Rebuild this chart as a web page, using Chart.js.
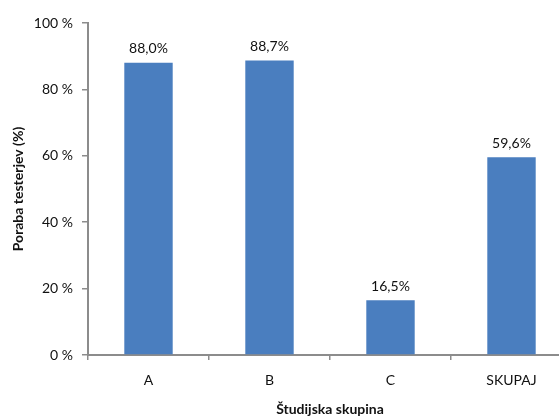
<!DOCTYPE html>
<html>
<head>
<meta charset="utf-8">
<script src="https://cdn.jsdelivr.net/npm/chart.js@4"></script>
<style>
html,body{margin:0;padding:0;overflow:hidden;background:#fff;width:559px;height:417px;}
#wrap{width:572px;height:417px;position:relative;}
</style>
</head>
<body>
<div id="wrap"><canvas id="c" width="572" height="417"></canvas></div>
<script>
const categories = ['A', 'B', 'C', 'SKUPAJ'];
const values = [88.0, 88.7, 16.5, 59.6];
const yTicks = [0, 20, 40, 60, 80, 100];
const xTitle = 'Študijska skupina';
const yTitle = 'Poraba testerjev (%)';

const FONT = 'Lato, "Open Sans", sans-serif';

const labelPlugin = {
  id: 'valLabels',
  afterDatasetsDraw(chart) {
    const ctx = chart.ctx;
    const meta = chart.getDatasetMeta(0);
    ctx.save();
    ctx.font = '14px ' + FONT;
    ctx.fillStyle = '#111';
    ctx.textAlign = 'center';
    ctx.textBaseline = 'bottom';
    meta.data.forEach((bar, i) => {
      ctx.fillText(values[i].toFixed(1).replace('.', ',') + '%', bar.x, bar.y - 7);
    });
    ctx.restore();
  }
};

new Chart(document.getElementById('c'), {
  type: 'bar',
  data: {
    labels: categories,
    datasets: [{
      data: values,
      backgroundColor: '#4a7ebf',
      borderWidth: 0,
      categoryPercentage: 1.0,
      barPercentage: 0.4
    }]
  },
  plugins: [labelPlugin],
  options: {
    responsive: false,
    animation: false,
    events: [],
    layout: { padding: { top: 23, right: 0, left: 0, bottom: 0 } },
    plugins: { legend: { display: false }, tooltip: { enabled: false } },
    scales: {
      x: {
        offset: true,
        afterFit(s) { s.height = 62; },
        border: { display: true, color: '#8c8c8c', width: 2 },
        grid: { display: true, drawOnChartArea: false, drawTicks: true, tickLength: 5, color: '#8c8c8c', lineWidth: 1.5, offset: true },
        ticks: { color: '#111', font: { family: FONT, size: 14 }, padding: 12 },
        title: { display: true, text: xTitle, color: '#111', font: { family: FONT, size: 14, weight: 'bold' }, padding: { top: 12, bottom: -1 } }
      },
      y: {
        min: 0, max: 100,
        afterFit(s) { s.width = 88; },
        afterBuildTicks(s) { s.ticks = yTicks.map(v => ({ value: v })); },
        border: { display: true, color: '#8c8c8c', width: 2 },
        grid: { display: true, drawOnChartArea: false, drawTicks: true, tickLength: 6, color: '#8c8c8c', lineWidth: 1.5 },
        ticks: { color: '#111', font: { family: FONT, size: 14 }, padding: 9, callback: v => v + ' %' },
        title: { display: true, text: yTitle, color: '#111', font: { family: FONT, size: 14, weight: 'bold' }, padding: { top: 10, bottom: 4 } }
      }
    }
  }
});
</script>
</body>
</html>
